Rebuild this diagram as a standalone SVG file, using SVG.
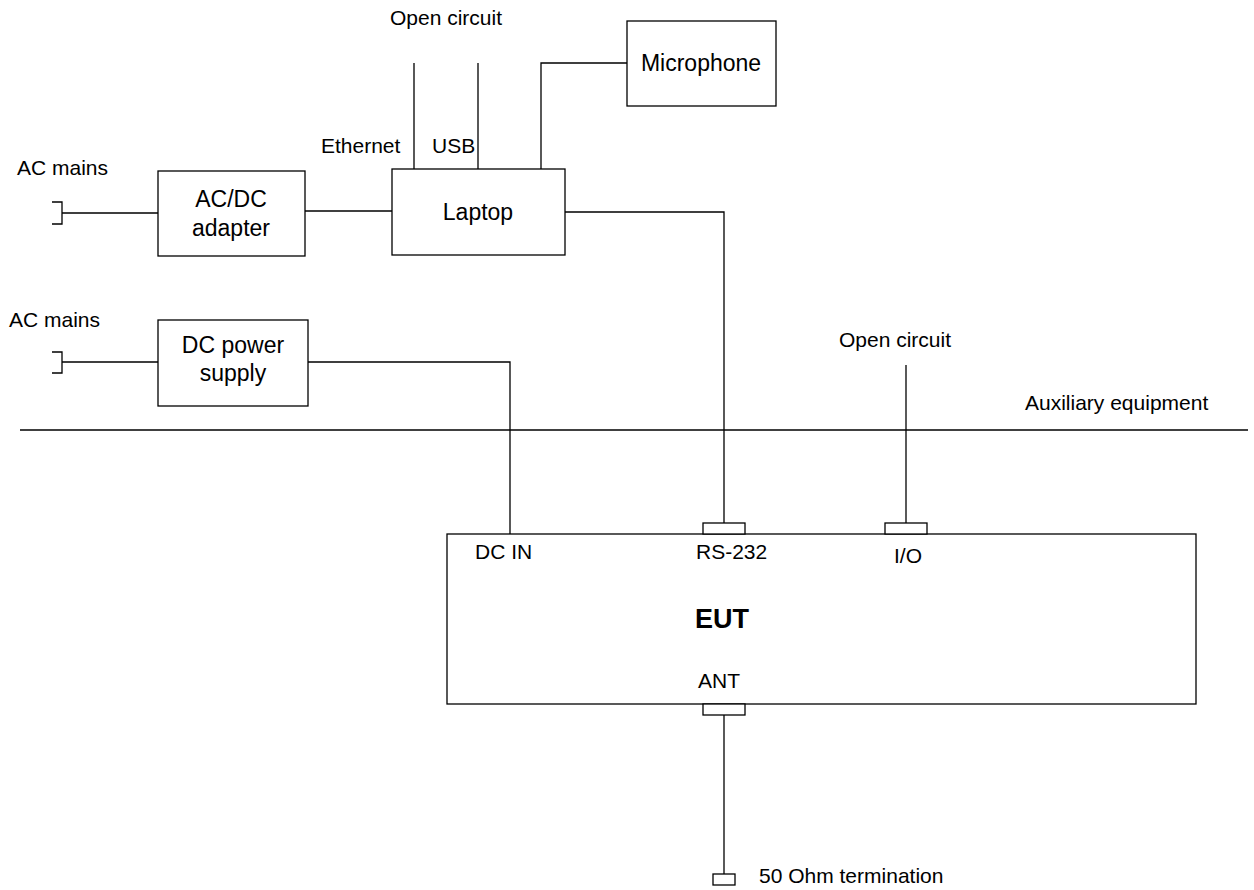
<svg xmlns="http://www.w3.org/2000/svg" width="1254" height="890" viewBox="0 0 1254 890">
<style>
.box{fill:#fff;stroke:#000;stroke-width:1.3}
.ln{fill:none;stroke:#000;stroke-width:1.3}
text{font-family:"Liberation Sans",Arial,sans-serif;fill:#000}
.s{font-size:21px}
.b{font-size:23px}
.c{text-anchor:middle}
</style>
<rect width="1254" height="890" fill="#fff"/>
<g id="connectors">
<path class="ln" d="M52,202H62V224H52M62,213H158"/>
<path class="ln" d="M52,352H62V373H52M62,362H158"/>
<path class="ln" d="M305,211H392"/>
<path class="ln" d="M414,63V169M478,63V169"/>
<path class="ln" d="M541,169V63H627"/>
<path class="ln" d="M565,212H724V523"/>
<path class="ln" d="M308,362H510V534"/>
<path class="ln" d="M906,365V523"/>
<path class="ln" d="M724,715V874"/>
<path class="ln" d="M20,430H1248"/>
</g>
<g id="labels">
<text class="s" x="17" y="175">AC mains</text>
<text class="s" x="9" y="327">AC mains</text>
<text class="s c" x="446" y="25">Open circuit</text>
<text class="s" x="321" y="153">Ethernet</text>
<text class="s" x="432" y="153">USB</text>
<text class="s c" x="895" y="347">Open circuit</text>
<text class="s" x="1025" y="410">Auxiliary equipment</text>
<text class="s" x="759" y="883">50 Ohm termination</text>
</g>
<g id="acdc"><rect class="box" x="158" y="171" width="147" height="85"/><text class="b c" x="231" y="207">AC/DC</text><text class="b c" x="231" y="236">adapter</text></g>
<g id="dcps"><rect class="box" x="158" y="320" width="150" height="86"/><text class="b c" x="233" y="353">DC power</text><text class="b c" x="233" y="381">supply</text></g>
<g id="laptop"><rect class="box" x="392" y="169" width="173" height="86"/><text class="b c" x="478" y="220">Laptop</text></g>
<g id="microphone"><rect class="box" x="627" y="21" width="149" height="85"/><text class="b c" x="701" y="71">Microphone</text></g>
<g id="eut">
<rect class="box" x="447" y="534" width="749" height="170"/>
<rect class="box" x="703" y="523" width="42" height="11"/>
<rect class="box" x="885" y="523" width="42" height="11"/>
<rect class="box" x="703" y="704" width="42" height="11"/>
<text class="s" x="475" y="559">DC IN</text>
<text class="s" x="696" y="559">RS-232</text>
<text class="s" x="894" y="563">I/O</text>
<text class="c" x="722" y="628" style="font-size:27px;font-weight:bold">EUT</text>
<text class="s" x="698" y="688">ANT</text>
</g>
<g id="termination"><rect class="box" x="713" y="874" width="22" height="11"/></g>
</svg>
